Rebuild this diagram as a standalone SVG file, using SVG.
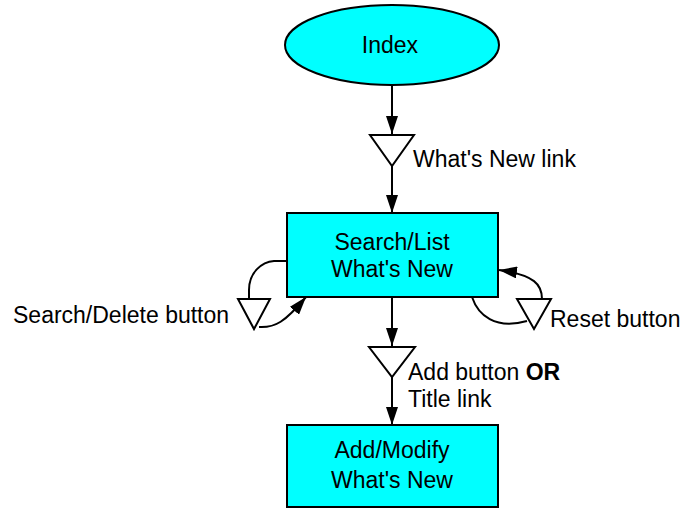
<svg xmlns="http://www.w3.org/2000/svg" width="682" height="509" viewBox="0 0 682 509">
<defs>
<style>
text{font-family:"Liberation Sans",Arial,sans-serif;font-size:23px;fill:#000}
.c{text-anchor:middle}
.n{fill:#00ffff;stroke:#000;stroke-width:2}
.t{fill:#fff;stroke:#000;stroke-width:2}
.l{fill:none;stroke:#000;stroke-width:2}
</style>
<marker id="a" markerUnits="userSpaceOnUse" markerWidth="18" markerHeight="12" refX="18" refY="6" orient="auto">
<path d="M0,0 L18,6 L0,12 z" fill="#000"/>
</marker>
</defs>
<g id="connectors">
<path class="l" d="M392,85 L392,134" marker-end="url(#a)"/>
<path class="l" d="M392,166 L392,213" marker-end="url(#a)"/>
<path class="l" d="M392,297 L392,346" marker-end="url(#a)"/>
<path class="l" d="M392,377 L392,425" marker-end="url(#a)"/>
<path class="l" d="M288,261 L274,261 C262,262 249,272 249,290 L249,299"/>
<path class="l" d="M259,327 C275,328 285,322 306,297" marker-end="url(#a)"/>
<path class="l" d="M542,299 C542,285 535,275 499,270" marker-end="url(#a)"/>
<path class="l" d="M472,297 C478,315 495,330 527,321"/>
</g>
<g id="index">
<ellipse class="n" cx="392" cy="45" rx="107" ry="40"/>
<text class="c" x="390" y="53">Index</text>
</g>
<g id="whatsnewlink">
<polygon class="t" points="370,135 414,135 392,166"/>
<text x="413" y="167">What's New link</text>
</g>
<g id="searchlist">
<rect class="n" x="287" y="213" width="211" height="84"/>
<text class="c" x="392" y="250">Search/List</text>
<text class="c" x="392" y="277">What's New</text>
</g>
<g id="searchdelete">
<polygon class="t" points="238,299 270,299 254,329"/>
<text x="13" y="323">Search/Delete button</text>
</g>
<g id="reset">
<polygon class="t" points="517,299 551,299 534,329"/>
<text x="550" y="327">Reset button</text>
</g>
<g id="addbutton">
<polygon class="t" points="369,347 415,347 392,377"/>
<text x="408" y="380">Add button <tspan font-weight="bold">OR</tspan></text>
<text x="408" y="407">Title link</text>
</g>
<g id="addmodify">
<rect class="n" x="287" y="425" width="211" height="82"/>
<text class="c" x="392" y="458">Add/Modify</text>
<text class="c" x="392" y="488">What's New</text>
</g>
</svg>
